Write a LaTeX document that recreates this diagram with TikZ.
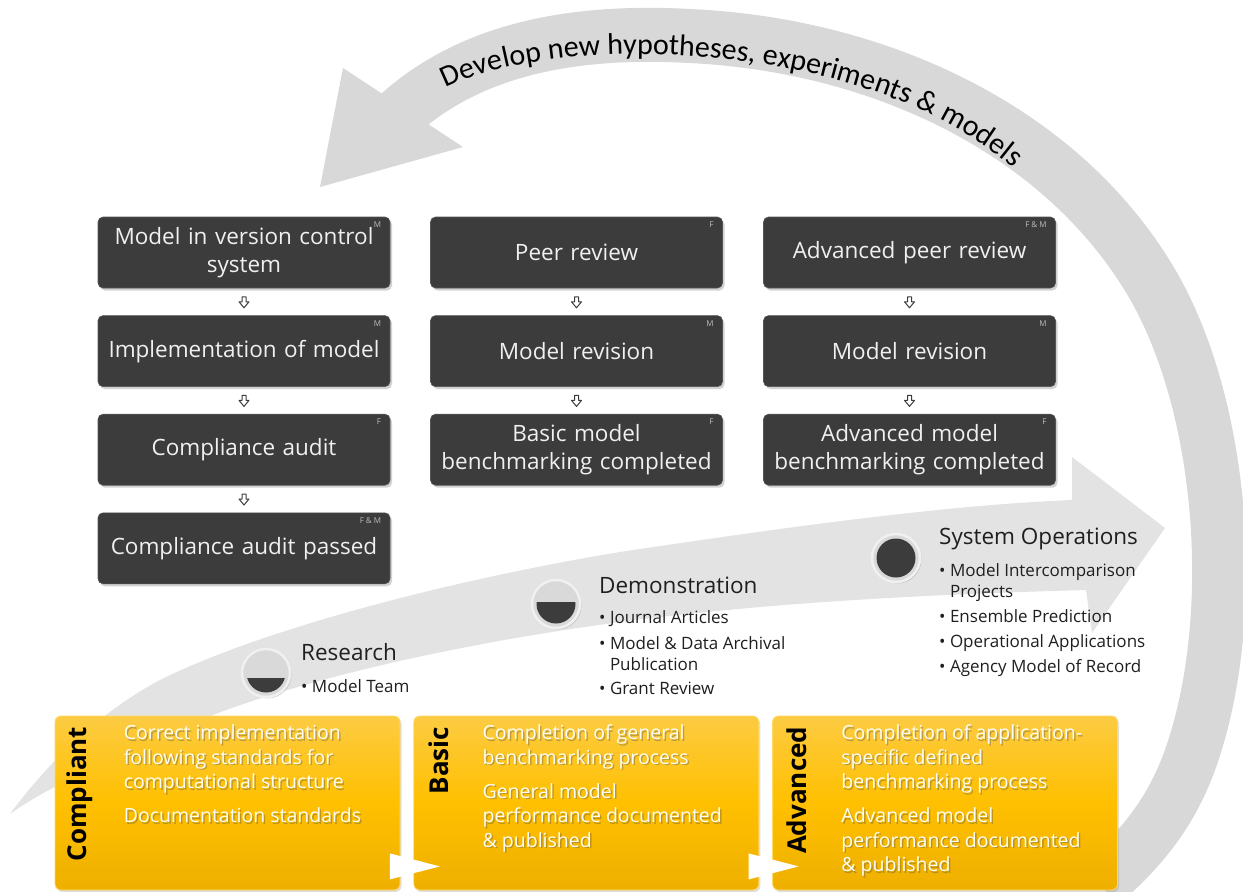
\documentclass[tikz,border=0pt]{standalone}
\usepackage{fontspec}
\setmainfont{Open Sans}
\newfontfamily\arcfamily{Carlito}
\usetikzlibrary{positioning,calc,shadows,decorations.text}

\definecolor{boxdark}{HTML}{3C3C3C}
\definecolor{boxedge}{HTML}{555555}
\definecolor{arcgray}{HTML}{D8D8D8}
\definecolor{swoosh}{HTML}{E3E3E3}
\definecolor{ink}{HTML}{1F1F1F}
\definecolor{ytop}{HTML}{FCCB42}
\definecolor{ymid}{HTML}{FFC000}
\definecolor{ybot}{HTML}{EEAF00}
\definecolor{yedge}{HTML}{FFD966}
\definecolor{tagtext}{HTML}{BDBDBD}

\newcommand\arcfont{\arcfamily\fontsize{30}{32}\selectfont}

% white text on the yellow boxes, with a soft copy underneath
\newcommand\leveltext[3]{%
  \node[leveltxt, text=black!70, opacity=.35] (#1s) at ([xshift=70.5pt,yshift=-10.5pt]#2.north west) {#3};
  \node[leveltxt] (#1) at ([xshift=69pt,yshift=-9pt]#2.north west) {#3};}

\tikzset{
  stepbox/.style={fill=boxdark, draw=boxedge, line width=.6pt, rounded corners=5pt,
    minimum width=292pt, minimum height=71pt, text width=285pt, align=center,
    text=white!94!black, font=\fontsize{22.5}{27.5}\selectfont,
    drop shadow={opacity=.35, shadow xshift=2pt, shadow yshift=-2.5pt}},
  tag/.style={anchor=north east, inner sep=0pt, text=tagtext, font=\fontsize{8}{9}\selectfont},
  hollowarrow/.style={draw=boxdark, fill=white, line width=1pt, line join=round},
  levelbox/.style={rounded corners=6pt, draw=yedge, line width=.8pt,
    top color=ytop, bottom color=ybot, middle color=ymid,
    minimum width=345pt, minimum height=174pt,
    drop shadow={opacity=.25, shadow xshift=1.5pt, shadow yshift=-2pt}},
  levelname/.style={rotate=90, anchor=east, inner sep=0pt, text=black,
    font=\bfseries\fontsize{26}{28}\selectfont},
  leveltxt/.style={anchor=north west, inner sep=0pt, align=left,
    text=white!96!yellow, font=\fontsize{19.5}{24.5}\selectfont},
  milestone/.style={circle, minimum size=48pt, inner sep=0pt, fill=gray!30,
    draw=gray!12, line width=2.5pt,
    drop shadow={opacity=.3, shadow xshift=1.5pt, shadow yshift=-1.5pt}},
  heading/.style={anchor=west, inner sep=0pt, text=ink, font=\fontsize{22.5}{26}\selectfont},
  bullets/.style={anchor=north west, inner sep=0pt, align=left, text=ink,
    font=\fontsize{17}{21}\selectfont},
}

\begin{document}
\begin{tikzpicture}[x=1pt,y=-1pt]
\useasboundingbox (0,0) rectangle (1243,892);
\fill[white] (0,0) rectangle (1243,892);

% feedback loop over the top
\coordinate (tip) at (320,187);
\coordinate (barbA) at (343,68);
\coordinate (barbB) at (463,147);
\draw[arcgray, line width=54pt] (398,115) .. controls (474,46) and (580,30) .. (690,36)
  .. controls (880,45) and (1060,130) .. (1150,280)
  .. controls (1225,405) and (1240,620) .. (1190,760)
  .. controls (1170,815) and (1140,850) .. (1100,885);
\fill[arcgray] (barbA) -- (tip) -- (barbB) -- cycle;
\path[decorate, decoration={text along path, text align=left,
    text={|\arcfont|Develop new hypotheses, experiments {\&} models}}]
  (446,88) .. controls (560,30) and (900,35) .. (1040,195);

% forward swoosh
\fill[swoosh] (10,814) .. controls (50,760) and (100,712) .. (160,680)
  .. controls (260,630) and (450,580) .. (620,552)
  .. controls (800,525) and (950,505) .. (1072,500)
  -- (1072,457) -- (1165,528) -- (1092,633) -- (1086,590)
  .. controls (900,595) and (750,605) .. (620,622)
  .. controls (450,645) and (300,680) .. (200,720)
  .. controls (120,755) and (50,785) .. (10,814) -- cycle;

% steps
\node[stepbox] (b11) at (244,252.5) {Model in version control\\system};
\node[stepbox, below=27pt of b11] (b12) {Implementation of model};
\node[stepbox, below=27pt of b12] (b13) {Compliance audit};
\node[stepbox, below=27pt of b13] (b14) {Compliance audit passed};

\node[stepbox] (b21) at (576.5,252.5) {Peer review};
\node[stepbox, below=27pt of b21] (b22) {Model revision};
\node[stepbox, below=27pt of b22] (b23) {Basic model\\benchmarking completed};

\node[stepbox] (b31) at (909.5,252.5) {Advanced peer review};
\node[stepbox, below=27pt of b31] (b32) {Model revision};
\node[stepbox, below=27pt of b32] (b33) {Advanced model\\benchmarking completed};

\foreach \bx/\tg in {b11/M, b12/M, b13/F, b14/F \& M, b21/F, b22/M, b23/F,
    b31/F \& M, b32/M, b33/F}
  \node[tag] (t\bx) at ([xshift=-9pt,yshift=-5pt]\bx.north east) {\tg};

\foreach \a/\bx in {b11/b12, b12/b13, b13/b14, b21/b22, b22/b23, b31/b32, b32/b33} {
  \path (\a) -- (\bx) coordinate[pos=.5] (m\a);
  \draw[hollowarrow] (m\a) ++(-2,-5) -- ++(4,0) -- ++(0,5) -- ++(3,0)
    -- ++(-5,6) -- ++(-5,-6) -- ++(3,0) -- cycle;
}

% milestones on the swoosh
\foreach \nm/\x/\y/\lev in {res/266/673/5, dem/556/604/-2, ops/896/558/-24} {
  \node[milestone] (\nm) at (\x,\y) {};
  \begin{scope}
    \clip (\nm.center) circle[radius=19.5];
    \fill[boxdark] ($(\nm.center)+(-21,\lev)$) rectangle ++(42,50);
  \end{scope}
}

\node[heading] (resh) at (301,652) {Research};
\node[bullets] (resb) at (301,679) {\textbullet\ Model Team};
\node[heading] (demh) at (599,585) {Demonstration};
\node[bullets] (demb) at (599,610) {\textbullet\ Journal Articles\\[5pt]
  \textbullet\ Model \& Data Archival\\\phantom{\textbullet\ }Publication\\[3pt]
  \textbullet\ Grant Review};
\node[heading] (opsh) at (939,539) {System Operations};
\node[bullets] (opsb) at (939,563) {\textbullet\ Model Intercomparison\\
  \phantom{\textbullet\ }Projects\\[4pt]
  \textbullet\ Ensemble Prediction\\[4pt]
  \textbullet\ Operational Applications\\[4pt]
  \textbullet\ Agency Model of Record};

% levels
\node[levelbox] (compliant) at (227.5,803) {};
\node[levelbox, right=13pt of compliant] (basic) {};
\node[levelbox, right=13pt of basic] (advanced) {};

\node[levelname] (compliantl) at ([xshift=25pt,yshift=-11pt]compliant.north west) {Compliant};
\node[levelname] (basicl) at ([xshift=25pt,yshift=-11pt]basic.north west) {Basic};
\node[levelname] (advancedl) at ([xshift=25pt,yshift=-11pt]advanced.north west) {Advanced};

\leveltext{compliantt}{compliant}{Correct implementation\\following standards for\\
  computational structure\\[9.5pt]Documentation standards}
\leveltext{basict}{basic}{Completion of general\\benchmarking process\\[9.5pt]
  General model\\performance documented\\\& published}
\leveltext{advancedt}{advanced}{Completion of application-\\specific defined\\
  benchmarking process\\[9.5pt]Advanced model\\performance documented\\\& published}

\foreach \a/\bx in {compliant/basic, basic/advanced} {
  \path (\a.south east) -- (\bx.south west) coordinate[pos=.5] (g\a);
  \fill[white] (g\a) ++(-17,-24) -- ++(0,-13) -- ++(50,13) -- ++(-50,13) -- cycle;
}
\end{tikzpicture}
\end{document}
